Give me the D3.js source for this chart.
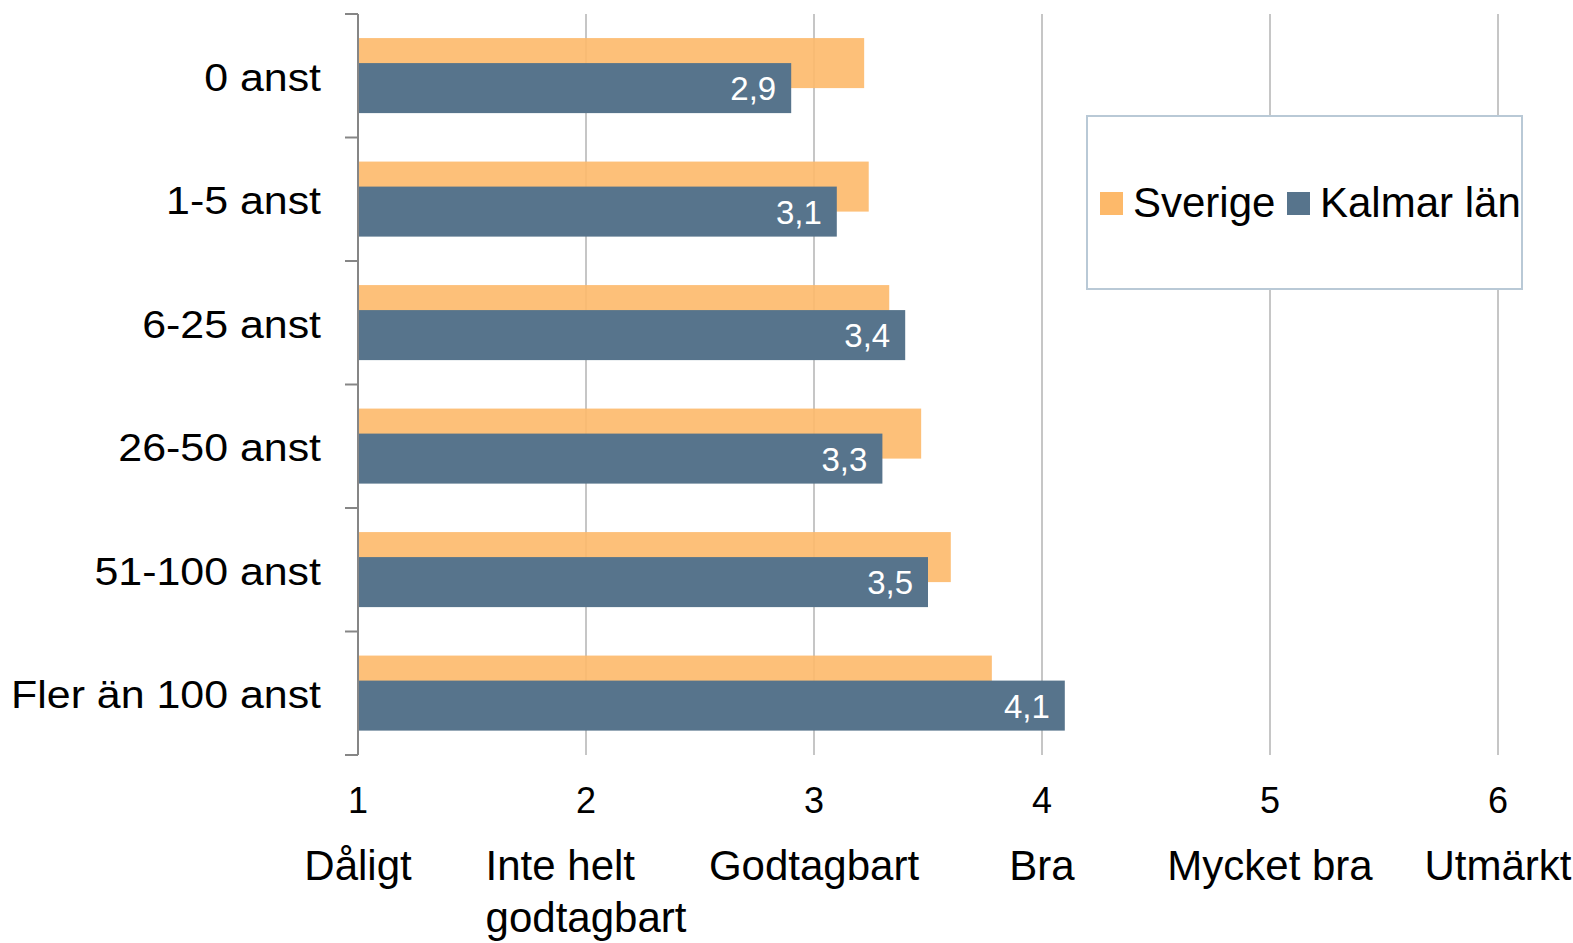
<!DOCTYPE html>
<html>
<head>
<meta charset="utf-8">
<script src="https://cdn.jsdelivr.net/npm/d3@7"></script>
<style>
  body { margin: 0; background: #fff; }
  svg { display: block; font-family: "Liberation Sans", Arial, sans-serif; }
</style>
</head>
<body>
<svg id="chart" width="1573" height="943"></svg>
<script>
const categories = ["0 anst", "1-5 anst", "6-25 anst", "26-50 anst", "51-100 anst", "Fler än 100 anst"];
const series = ["Sverige", "Kalmar län"];
const sverige = [3.22, 3.24, 3.33, 3.47, 3.60, 3.78];
const kalmar = [2.9, 3.1, 3.4, 3.3, 3.5, 4.1];
const xTicks = [1, 2, 3, 4, 5, 6];
const levelLabels = ["Dåligt", "Inte helt\ngodtagbart", "Godtagbart", "Bra", "Mycket bra", "Utmärkt"];

const colors = { "Sverige": "#FDB96A", "Kalmar län": "#57748C" };

const svg = d3.select("#chart");
const plot = { left: 358, right: 1498, top: 14, bottom: 755 };

const x = d3.scaleLinear().domain([1, 6]).range([plot.left, plot.right]);
const y = d3.scaleBand().domain(categories).range([plot.top, plot.bottom]).padding(0);
const bw = y.bandwidth();
const barH = bw * 0.405;
const sub = d3.scalePoint().domain(series).range([bw * 0.195, bw * 0.195 + barH / 2]);

const fmt = d3.formatLocale({ decimal: ",", thousands: " ", grouping: [3], currency: ["", " kr"] }).format(".1f");

// gridlines
svg.append("g")
  .selectAll("line")
  .data(xTicks.slice(1))
  .join("line")
  .attr("x1", d => x(d)).attr("x2", d => x(d))
  .attr("y1", plot.top).attr("y2", plot.bottom)
  .attr("stroke", "#C6C6C6")
  .attr("stroke-width", 2);

const data = categories.map((c, i) => ({ cat: c, "Sverige": sverige[i], "Kalmar län": kalmar[i] }));

// bars (Sverige first, Kalmar on top)
series.forEach(s => {
  svg.append("g")
    .selectAll("rect")
    .data(data)
    .join("rect")
    .attr("x", x(1))
    .attr("y", d => y(d.cat) + sub(s))
    .attr("width", d => x(d[s]) - x(1))
    .attr("height", barH)
    .attr("fill", colors[s])
    .attr("fill-opacity", s === "Sverige" ? 0.9 : 1);
});

// value labels on Kalmar bars
svg.append("g")
  .selectAll("text")
  .data(data)
  .join("text")
  .attr("x", d => x(d["Kalmar län"]) - 15)
  .attr("y", d => y(d.cat) + sub("Kalmar län") + barH / 2 + 12)
  .attr("text-anchor", "end")
  .attr("fill", "#fff")
  .style("font-size", "33px")
  .text(d => fmt(d["Kalmar län"]));

// y axis
const yAxis = svg.append("g");
yAxis.append("line")
  .attr("x1", x(1)).attr("x2", x(1))
  .attr("y1", plot.top).attr("y2", plot.bottom)
  .attr("stroke", "#868686").attr("stroke-width", 2);
const bounds = categories.map(c => y(c)).concat([plot.bottom]);
yAxis.selectAll("line.tick")
  .data(bounds)
  .join("line")
  .attr("class", "tick")
  .attr("x1", x(1) - 13).attr("x2", x(1))
  .attr("y1", d => d).attr("y2", d => d)
  .attr("stroke", "#868686").attr("stroke-width", 2);
yAxis.selectAll("text")
  .data(categories)
  .join("text")
  .attr("transform", d => `translate(321,${y(d) + bw / 2 + 15}) scale(1.1,1)`)
  .attr("text-anchor", "end")
  .attr("fill", "#000")
  .style("font-size", "39px")
  .text(d => d);

// x tick numbers
svg.append("g")
  .selectAll("text")
  .data(xTicks)
  .join("text")
  .attr("x", d => x(d))
  .attr("y", 813)
  .attr("text-anchor", "middle")
  .style("font-size", "36px")
  .text(d => d);

// level names under ticks
const lv = svg.append("g")
  .selectAll("text")
  .data(levelLabels)
  .join("text")
  .attr("y", 880)
  .style("font-size", "42px");
lv.each(function (d, i) {
  const t = d3.select(this);
  d.split("\n").forEach((line, j) => {
    t.append("tspan").attr("dy", j === 0 ? 0 : 52).text(line);
  });
  let maxW = 0;
  t.selectAll("tspan").each(function () { maxW = Math.max(maxW, this.getComputedTextLength()); });
  t.selectAll("tspan").attr("x", x(xTicks[i]) - maxW / 2);
});

// legend
const legend = svg.append("g");
legend.append("rect")
  .attr("x", 1087).attr("y", 116)
  .attr("width", 435).attr("height", 173)
  .attr("fill", "#fff")
  .attr("stroke", "#B9C9D6").attr("stroke-width", 2);
const legendX = [1100, 1287];
series.forEach((s, i) => {
  legend.append("rect")
    .attr("x", legendX[i]).attr("y", 192)
    .attr("width", 23).attr("height", 23)
    .attr("fill", colors[s]);
  legend.append("text")
    .attr("x", legendX[i] + 33).attr("y", 217)
    .style("font-size", "42px")
    .text(s);
});
</script>
</body>
</html>
